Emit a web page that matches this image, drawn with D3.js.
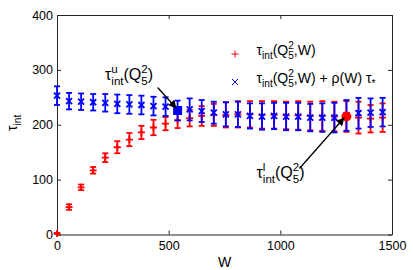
<!DOCTYPE html>
<html>
<head>
<meta charset="utf-8">
<script src="https://cdn.jsdelivr.net/npm/d3@7"></script>
<style>
  body { margin: 0; background: #fff; }
  svg { display: block; font-family: "Liberation Sans", Arial, Helvetica, sans-serif; }
</style>
</head>
<body>
<script>
// W values (x axis)
var wValues = [0, 54, 108, 162, 216, 270, 324, 378, 432, 486, 540, 594, 648, 702,
               756, 810, 864, 918, 972, 1026, 1080, 1134, 1188, 1242, 1296, 1350, 1404, 1458];
// tau_int(Q5^2, W)  (red +)
var tauInt = [2, 50, 86, 117, 140, 159, 173, 186, 195, 202, 208, 212, 216, 218,
              218, 219, 219, 218, 218, 217, 217, 216, 216, 215, 215, 213, 211, 213];
var tauIntErr = [1, 5, 5, 6, 8, 11, 12, 12, 14, 12, 14, 15, 18, 20,
                 23, 24, 24, 25, 25, 25, 26, 26, 27, 27, 28, 29, 25, 26];
// tau_int(Q5^2, W) + rho(W) tau_*  (blue x)
var tauCorr = [253, 243, 242, 241, 240, 238, 237, 236, 234, 233, 226, 228, 225, 222,
               219, 219, 216, 215, 216, 215, 215, 213, 213, 213, 217, 221, 222, 223];
var tauCorrErr = [17, 15, 15, 15, 16, 17, 17, 17, 17, 17, 18, 20, 20, 20,
                  22, 23, 23, 24, 24, 25, 25, 25, 26, 27, 28, 28, 26, 26];
// highlighted points: upper (blue square) and lower (red circle) estimates
var upperIdx = 10;
var lowerIdx = 24;

var xTicks = [0, 500, 1000, 1500];
var yTicks = [0, 100, 200, 300, 400];

var width = 413, height = 270;
var margin = {top: 15, right: 21, bottom: 35.5, left: 57};

var svg = d3.select("body").append("svg")
    .attr("width", width)
    .attr("height", height);

var x = d3.scaleLinear().domain([0, 1500]).range([margin.left, width - margin.right]);
var y = d3.scaleLinear().domain([0, 400]).range([height - margin.bottom, margin.top]);

var axisColor = "#262626";

// axes with inward ticks, mirrored on top/right
function styleAxis(g) {
    g.selectAll("path.domain").attr("stroke", axisColor).attr("stroke-width", 1);
    g.selectAll(".tick line").attr("stroke", axisColor);
    g.selectAll("text").attr("fill", "#000").style("font-size", "12.5px")
        .style("font-family", '"Liberation Sans", Arial, sans-serif');
}

svg.append("g")
    .attr("transform", "translate(0," + y(0) + ")")
    .call(d3.axisBottom(x).tickValues(xTicks).tickFormat(d3.format("d"))
        .tickSizeInner(-4).tickSizeOuter(0).tickPadding(7))
    .call(styleAxis);
svg.append("g")
    .attr("transform", "translate(0," + y(400) + ")")
    .call(d3.axisTop(x).tickValues(xTicks).tickSizeInner(-4).tickSizeOuter(0).tickFormat(""))
    .call(styleAxis);
svg.append("g")
    .attr("transform", "translate(" + x(0) + ",0)")
    .call(d3.axisLeft(y).tickValues(yTicks).tickFormat(d3.format("d"))
        .tickSizeInner(-4).tickSizeOuter(0).tickPadding(4))
    .call(styleAxis);
svg.append("g")
    .attr("transform", "translate(" + x(1500) + ",0)")
    .call(d3.axisRight(y).tickValues(yTicks).tickSizeInner(-4).tickSizeOuter(0).tickFormat(""))
    .call(styleAxis);

// text with sub/superscripts; parts: string, [text, "sub"|"sup"], or {stack: [sup, sub]}
function mathText(g, x0, y0, parts, size) {
    var cx = x0;
    var small = size * 0.72;
    parts.forEach(function(p) {
        if (typeof p === "string") p = [p, "n"];
        if (p.stack) {
            var a = g.append("text").attr("x", cx).attr("y", y0 - size * 0.42)
                .style("font-size", small + "px").text(p.stack[0]);
            var b = g.append("text").attr("x", cx).attr("y", y0 + size * 0.3)
                .style("font-size", small + "px").text(p.stack[1]);
            cx += Math.max(a.node().getComputedTextLength(), b.node().getComputedTextLength());
            return;
        }
        var t = g.append("text").attr("x", cx);
        if (p[1] === "sub") {
            t.attr("y", y0 + size * 0.3).style("font-size", small + "px");
        } else if (p[1] === "sup") {
            t.attr("y", y0 - size * 0.42).style("font-size", small + "px");
        } else {
            t.attr("y", y0).style("font-size", size + "px");
        }
        t.attr("xml:space", "preserve").text(p[0]);
        cx += t.node().getComputedTextLength();
    });
    return cx;
}

// error bars
function drawSeries(vals, errs, color, marker) {
    var g = svg.append("g").attr("stroke", color).attr("fill", "none");
    vals.forEach(function(v, i) {
        var px = x(wValues[i]);
        var top = y(v + errs[i]), bot = y(v - errs[i]), py = y(v);
        var cap = 3;
        g.append("line").attr("x1", px).attr("x2", px).attr("y1", top).attr("y2", bot)
            .attr("stroke-width", 1.8);
        g.append("line").attr("x1", px - cap).attr("x2", px + cap).attr("y1", top).attr("y2", top)
            .attr("stroke-width", 1.8);
        g.append("line").attr("x1", px - cap).attr("x2", px + cap).attr("y1", bot).attr("y2", bot)
            .attr("stroke-width", 1.8);
        marker(g, px, py);
    });
}

function plusMarker(g, px, py, s, w) {
    s = s || 3.5;
    g.append("path").attr("d", "M" + (px - s) + "," + py + "H" + (px + s) + "M" + px + "," + (py - s) + "V" + (py + s))
        .attr("stroke-width", w || 1.8);
}
function crossMarker(g, px, py, s, w) {
    s = s || 3;
    g.append("path").attr("d", "M" + (px - s) + "," + (py - s) + "L" + (px + s) + "," + (py + s) +
        "M" + (px - s) + "," + (py + s) + "L" + (px + s) + "," + (py - s))
        .attr("stroke-width", w || 1.8);
}

drawSeries(tauInt, tauIntErr, "#ff0000", function(g, px, py) { plusMarker(g, px, py); });
drawSeries(tauCorr, tauCorrErr, "#0000ff", function(g, px, py) { crossMarker(g, px, py); });

// highlighted points
var ux = x(wValues[upperIdx]), uy = y(tauCorr[upperIdx]);
svg.append("rect").attr("x", ux - 4.5).attr("y", uy - 4.5).attr("width", 9).attr("height", 9)
    .attr("fill", "#0000ff");
var lx = x(wValues[lowerIdx]), ly = y(tauInt[lowerIdx]);
svg.append("circle").attr("cx", lx).attr("cy", ly).attr("r", 5).attr("fill", "#ff0000");

// arrows
svg.append("defs").append("marker")
    .attr("id", "head").attr("viewBox", "0 0 10 10").attr("refX", 10).attr("refY", 5)
    .attr("markerWidth", 10).attr("markerHeight", 8).attr("markerUnits", "userSpaceOnUse")
    .attr("orient", "auto")
    .append("path").attr("d", "M0,0L10,5L0,10z").attr("fill", "#000");

svg.append("line").attr("x1", ux - 20).attr("y1", uy - 23).attr("x2", ux - 1).attr("y2", uy - 2)
    .attr("stroke", "#000").attr("stroke-width", 1.3).attr("marker-end", "url(#head)");
svg.append("line").attr("x1", lx - 47).attr("y1", ly + 52).attr("x2", lx - 2).attr("y2", ly + 1)
    .attr("stroke", "#000").attr("stroke-width", 1.3).attr("marker-end", "url(#head)");

// annotation labels
var ann = svg.append("g").attr("fill", "#000");
mathText(ann, 105, 80, ["τ", {stack: ["u", "int"]}, "(Q", {stack: ["2", "5"]}, ")"], 16);
mathText(ann, 256.5, 178, ["τ", {stack: ["l", "int"]}, "(Q", {stack: ["2", "5"]}, ")"], 16);

// legend
var leg = svg.append("g");
plusMarker(leg.append("g").attr("stroke", "#ff0000"), 235, 54, 3.5, 1);
crossMarker(leg.append("g").attr("stroke", "#0000ff"), 235, 82, 3, 1);
var legText = leg.append("g").attr("fill", "#000");
mathText(legText, 256.5, 55, ["τ", ["int", "sub"], "(Q", {stack: ["2", "5"]}, ",W)"], 14);
mathText(legText, 256.5, 83, ["τ", ["int", "sub"], "(Q", {stack: ["2", "5"]}, ",W) + ρ(W) τ", ["*", "sub"]], 14);

// axis labels
svg.append("text").attr("x", (x(0) + x(1500)) / 2).attr("y", 267)
    .attr("text-anchor", "middle").style("font-size", "14px").text("W");
var yl = svg.append("g").attr("transform", "translate(17,131) rotate(-90)");
mathText(yl, 0, 0, ["τ", ["int", "sub"]], 14);
</script>
</body>
</html>
